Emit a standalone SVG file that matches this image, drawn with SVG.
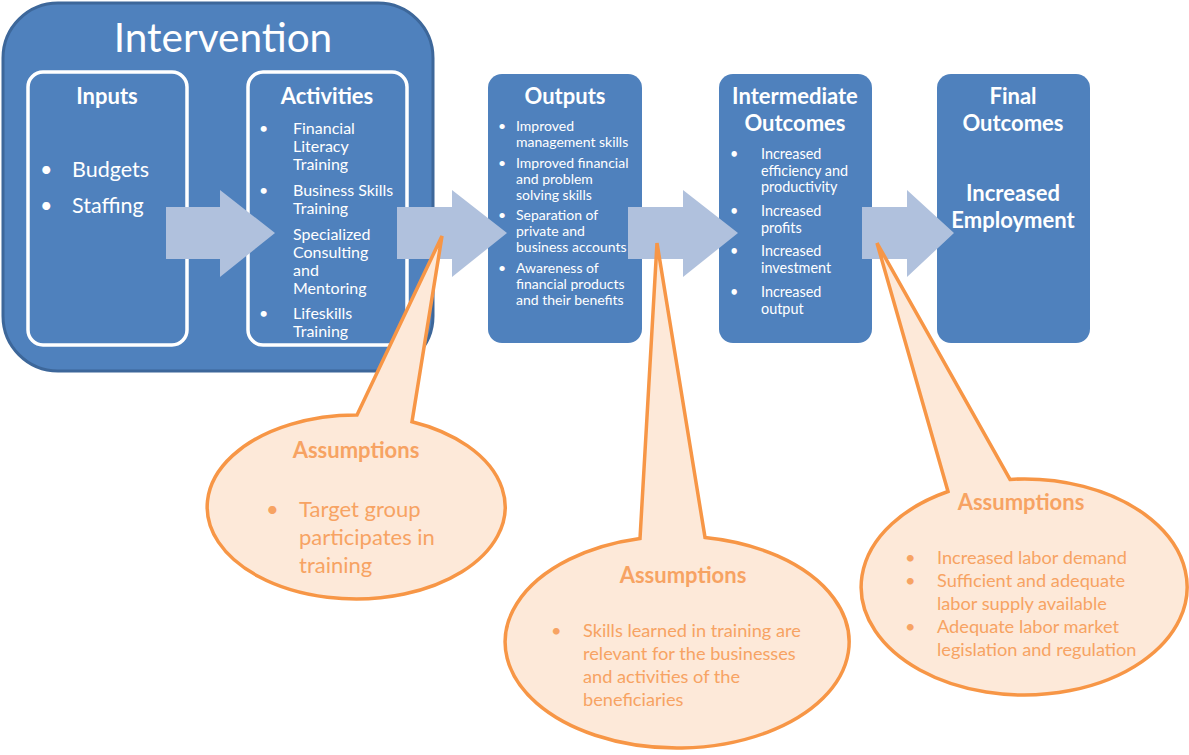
<svg xmlns="http://www.w3.org/2000/svg" width="1189" height="755" viewBox="0 0 1189 755">
<style>
.box{fill:#4F81BD}
.inner{fill:#4F81BD;stroke:#FFFFFF;stroke-width:3.5}
.arrow{fill:#B0C1DD}
.call{fill:#FDE9D9;stroke:#F79646;stroke-width:3.5;stroke-linejoin:miter}
text{font-family:Lato,"Open Sans","Liberation Sans",sans-serif}
.w{fill:#FFFFFF}
.ttl{font-weight:bold;font-size:22px;text-anchor:middle}
.o{fill:#F7A363}
.ah{font-weight:bold;font-size:22px;text-anchor:middle}
</style>
<rect width="1189" height="755" fill="#FFFFFF"/>
<g id="intervention">
<rect x="3" y="3" width="430" height="368" rx="55" ry="55" fill="#4F81BD" stroke="#3D679A" stroke-width="3"/>
<text x="223" y="52" class="w" font-size="40.5" text-anchor="middle">Intervention</text>
</g>
<g id="inputs">
<rect x="28" y="72" width="159" height="273" rx="15" class="inner"/>
<text x="107" y="104" class="w ttl">Inputs</text>
<text class="w" font-size="21.5"><tspan x="40" y="177">•</tspan><tspan x="72" y="177">Budgets</tspan><tspan x="40" y="213">•</tspan><tspan x="72" y="213">Staffing</tspan></text>
</g>
<g id="activities">
<rect x="248" y="72" width="159" height="273" rx="15" class="inner"/>
<text x="327" y="104" class="w ttl">Activities</text>
<text class="w" font-size="16"><tspan x="259" y="134">•</tspan><tspan x="293" y="134">Financial</tspan><tspan x="293" y="152">Literacy</tspan><tspan x="293" y="170">Training</tspan><tspan x="259" y="196">•</tspan><tspan x="293" y="196">Business Skills</tspan><tspan x="293" y="214">Training</tspan><tspan x="293" y="240">Specialized</tspan><tspan x="293" y="258">Consulting</tspan><tspan x="293" y="276">and</tspan><tspan x="293" y="294">Mentoring</tspan><tspan x="259" y="319">•</tspan><tspan x="293" y="319">Lifeskills</tspan><tspan x="293" y="337">Training</tspan></text>
</g>
<g id="outputs">
<rect x="488" y="74" width="154" height="269" rx="14" class="box"/>
<text x="565" y="104" class="w ttl">Outputs</text>
<text class="w" font-size="14"><tspan x="498" y="131">•</tspan><tspan x="516" y="131">Improved</tspan><tspan x="516" y="147">management skills</tspan><tspan x="498" y="168">•</tspan><tspan x="516" y="168">Improved financial</tspan><tspan x="516" y="184">and problem</tspan><tspan x="516" y="200">solving skills</tspan><tspan x="498" y="220">•</tspan><tspan x="516" y="220">Separation of</tspan><tspan x="516" y="236">private and</tspan><tspan x="516" y="252">business accounts</tspan><tspan x="498" y="273">•</tspan><tspan x="516" y="273">Awareness of</tspan><tspan x="516" y="289">financial products</tspan><tspan x="516" y="305">and their benefits</tspan></text>
</g>
<g id="intermediate">
<rect x="719" y="74" width="153" height="269" rx="14" class="box"/>
<text x="795" y="104" class="w ttl">Intermediate</text>
<text x="795" y="131" class="w ttl">Outcomes</text>
<text class="w" font-size="14.4"><tspan x="730" y="159">•</tspan><tspan x="761" y="159">Increased</tspan><tspan x="761" y="176">efficiency and</tspan><tspan x="761" y="192">productivity</tspan><tspan x="730" y="216">•</tspan><tspan x="761" y="216">Increased</tspan><tspan x="761" y="233">profits</tspan><tspan x="730" y="256">•</tspan><tspan x="761" y="256">Increased</tspan><tspan x="761" y="273">investment</tspan><tspan x="730" y="297">•</tspan><tspan x="761" y="297">Increased</tspan><tspan x="761" y="314">output</tspan></text>
</g>
<g id="final">
<rect x="937" y="74" width="153" height="269" rx="14" class="box"/>
<text x="1013" y="104" class="w ttl">Final</text>
<text x="1013" y="131" class="w ttl">Outcomes</text>
<text x="1013" y="201" class="w ttl">Increased</text>
<text x="1013" y="228" class="w ttl">Employment</text>
</g>
<g id="connectors">
<path class="arrow" d="M166,207 H220 V190 L275,233 L220,277 V259 H166 Z"/>
<path class="arrow" d="M397,207 H452 V190 L507,233 L452,277 V259 H397 Z"/>
<path class="arrow" d="M628,207 H683 V190 L738,233 L683,277 V259 H628 Z"/>
<path class="arrow" d="M862,207 H907 V190 L954,233 L907,277 V259 H862 Z"/>
</g>
<g id="assumptions1">
<path class="call" d="M412,421.7 A149 92 0 1 1 357,415 L442,236 Z"/>
<text x="356" y="458" class="o ah">Assumptions</text>
<text class="o" font-size="22"><tspan x="266" y="517">•</tspan><tspan x="299" y="517">Target group</tspan><tspan x="299" y="545">participates in</tspan><tspan x="299" y="573">training</tspan></text>
</g>
<g id="assumptions2">
<path class="call" d="M705,537.4 A172 106 0 1 1 640,538.5 L657,243 Z"/>
<text x="683" y="583" class="o ah">Assumptions</text>
<text class="o" font-size="18.2"><tspan x="551" y="637">•</tspan><tspan x="583" y="637">Skills learned in training are</tspan><tspan x="583" y="660">relevant for the businesses</tspan><tspan x="583" y="683">and activities of the</tspan><tspan x="583" y="706">beneficiaries</tspan></text>
</g>
<g id="assumptions3">
<path class="call" d="M1010,479.4 A163 108 0 1 1 948,491.5 L877,243 Z"/>
<text x="1021" y="510" class="o ah">Assumptions</text>
<text class="o" font-size="18.2"><tspan x="905" y="564">•</tspan><tspan x="937" y="564">Increased labor demand</tspan><tspan x="905" y="587">•</tspan><tspan x="937" y="587">Sufficient and adequate</tspan><tspan x="937" y="610">labor supply available</tspan><tspan x="905" y="633">•</tspan><tspan x="937" y="633">Adequate labor market</tspan><tspan x="937" y="656">legislation and regulation</tspan></text>
</g>
</svg>
